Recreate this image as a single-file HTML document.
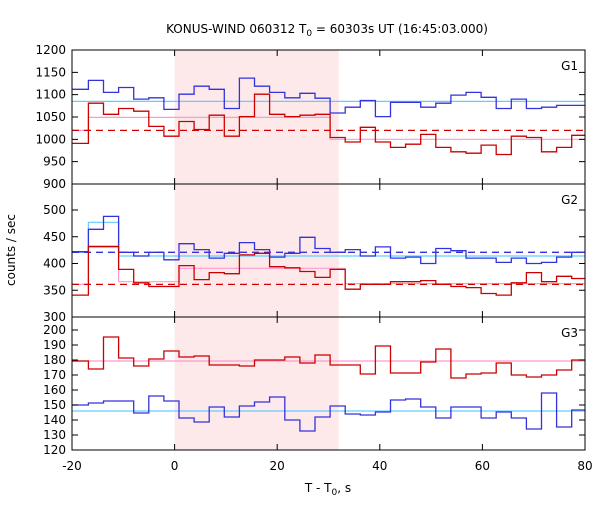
<!DOCTYPE html>
<html><head><meta charset="utf-8"><style>
body{margin:0;background:#fff;}
svg text{font-family:"DejaVu Sans","Liberation Sans",sans-serif;font-size:12px;fill:#000;}
</style></head><body>
<svg id="chart" width="600" height="500" xmlns="http://www.w3.org/2000/svg"></svg>
<script>
const binStart = -16.8;
const binWidth = 2.944;
const xTicks = [-20, 0, 20, 40, 60, 80];
const shadeRange = [0, 32];
const g1Blue = [1112,1132,1105,1116,1090,1093,1067,1101,1119,1112,1069,1137,1119,1105,1093,1103,1092,1059,1072,1087,1051,1083,1083,1072,1081,1099,1105,1094,1069,1090,1069,1072,1076,1076];
const g1Red = [991,1081,1056,1069,1063,1029,1007,1040,1022,1054,1007,1051,1101,1056,1051,1054,1056,1004,994,1027,994,982,989,1011,982,972,969,987,966,1007,1004,972,982,1009];
const g1Ticks = [900,950,1000,1050,1100,1150,1200];
const g2Blue = [422,464,488,421,414,421,407,437,426,410,419,439,426,412,419,449,428,421,426,414,431,410,412,400,428,424,410,410,402,410,400,402,412,421];
const g2Red = [341,432,432,389,364,357,357,396,370,383,381,416,419,394,392,385,374,389,352,361,361,366,366,368,361,357,355,344,341,364,383,366,376,372];
const g2Ticks = [300,350,400,450,500];
const g3Red = [179.3,174,195.3,181.3,176,180.7,186,182,182.7,176.7,176.7,176,180,180,182,178,183.3,176.7,176.7,170.7,189.3,171.3,171.3,178.7,187.3,168,170.7,171.3,178,170,168.7,170,173.3,180];
const g3Blue = [150,151.3,152.7,152.7,144.7,156,152.7,141.3,138.7,148.7,142,149.3,152,155.3,140,132.7,142,149.3,144,143.3,145.3,153.3,154,148.7,141.3,148.7,148.7,141.3,145.3,141.3,134,158,135.3,146.7];
const g3Ticks = [120,130,140,150,160,170,180,190,200];
// mean/fit lines: [value per bin index segment] as [fromBin, toBin(exclusive), value]
const g1Cyan = [[0,34,1085]];
const g1Pink = [[0,1,1020],[1,17,1049],[17,34,1000]];
const g1Dash = 1020;
const g2Cyan = [[0,1,421],[1,3,477],[3,34,414]];
const g2Pink = [[0,1,361],[1,3,430],[3,7,366],[7,18,391],[18,34,362.5]];
const g2BlueDash = 421;
const g2RedDash = 361;
const g3Cyan = [[0,34,146]];
const g3Pink = [[0,34,179.3]];

const svg = document.getElementById('chart');
const NS = 'http://www.w3.org/2000/svg';
const L = 72, R = 585;
const xs = t => L + (t + 20) * (R - L) / 100;
function mk(tag, attrs, parent) { const e = document.createElementNS(NS, tag); for (const k in attrs) e.setAttribute(k, attrs[k]); (parent || svg).appendChild(e); return e; }
function edge(k) { if (k <= 0) return -20; return Math.min(80, binStart + (k - 1) * binWidth); }

const panels = [
  {name:'g1', top:50, bot:184, vmin:900, vmax:1200, ticks:g1Ticks, label:'G1', lineTop:50},
  {name:'g2', top:184, bot:317, vmin:300, vmax:550, ticks:g2Ticks, label:'G2'},
  {name:'g3', top:317, bot:450, vmin:120, vmax:208.7, ticks:g3Ticks, label:'G3'}
];
// panel 2: 500 at y=210, 300 at 317
panels[1].ys = v => 317 - (v - 300) * (317 - 210) / 200;
panels[2].ys = v => 450 - (v - 120) * (450 - 330) / 80;
panels[0].ys = v => 184 - (v - 900) * (184 - 50) / 300;

// shading
const sh = mk('rect', {x:xs(shadeRange[0]), y:50, width:xs(shadeRange[1]) - xs(shadeRange[0]), height:400, fill:'#fde9ea'});



function stepPath(vals, ys) {
  let d = '';
  for (let k = 0; k < vals.length; k++) {
    const x0 = xs(edge(k)), x1 = xs(edge(k + 1)), y = ys(vals[k]);
    if (x1 <= x0) continue;
    d += (d ? 'L' : 'M') + x0.toFixed(1) + ',' + y.toFixed(1) + 'L' + x1.toFixed(1) + ',' + y.toFixed(1);
  }
  return d;
}
function segPath(segs, ys) {
  let d = '';
  for (const s of segs) {
    const x0 = xs(edge(s[0])), x1 = xs(edge(s[1])), y = ys(s[2]);
    d += (d ? 'L' : 'M') + x0.toFixed(1) + ',' + y.toFixed(1) + 'L' + x1.toFixed(1) + ',' + y.toFixed(1);
  }
  return d;
}
function line(d, color, name, dash, w) {
  const p = mk('path', {d:d, fill:'none', stroke:color, 'stroke-width':w || 1.3});
  if (dash) p.setAttribute('stroke-dasharray', dash);
  
  
  return p;
}
function hline(v, ys, color, name) {
  return line('M' + L + ',' + ys(v).toFixed(1) + 'L' + R + ',' + ys(v).toFixed(1), color, name, '7,5');
}

const P1 = panels[0], P2 = panels[1], P3 = panels[2];
line(segPath(g1Cyan, P1.ys), '#66ccff', 'g1-blue-mean-line', null, 1.2);
line(segPath(g1Pink, P1.ys), '#ff99cc', 'g1-red-mean-line', null, 1.2);
hline(g1Dash, P1.ys, '#d00000', 'g1-red-background-dashed');
line(stepPath(g1Blue, P1.ys), '#3333dd', 'g1-blue-series');
line(stepPath(g1Red, P1.ys), '#cc0000', 'g1-red-series');

line(segPath(g2Cyan, P2.ys), '#66ccff', 'g2-blue-mean-line', null, 1.2);
line(segPath(g2Pink, P2.ys), '#ff99cc', 'g2-red-mean-line', null, 1.2);
hline(g2BlueDash, P2.ys, '#3333dd', 'g2-blue-background-dashed');
hline(g2RedDash, P2.ys, '#d00000', 'g2-red-background-dashed');
line(stepPath(g2Blue, P2.ys), '#3333dd', 'g2-blue-series');
line(stepPath(g2Red, P2.ys), '#cc0000', 'g2-red-series');

line(segPath(g3Cyan, P3.ys), '#66ccff', 'g3-blue-mean-line', null, 1.2);
line(segPath(g3Pink, P3.ys), '#ff99cc', 'g3-red-mean-line', null, 1.2);
line(stepPath(g3Red, P3.ys), '#cc0000', 'g3-red-series');
line(stepPath(g3Blue, P3.ys), '#3333dd', 'g3-blue-series');

// frames, ticks, labels
for (const p of panels) {
  const f = mk('rect', {x:L, y:p.top, width:R - L, height:p.bot - p.top, fill:'none', stroke:'#000', 'stroke-width':1});
  
  
  for (const v of p.ticks) {
    const y = p.ys(v);
    const t = mk('path', {d:'M' + L + ',' + y + 'h6M' + R + ',' + y + 'h-6', stroke:'#000', 'stroke-width':1});
    
    
    const tx = mk('text', {x:L - 6, y:y + 4, 'text-anchor':'end'});
    tx.textContent = v;
    
    
  }
  for (const v of xTicks) {
    const x = xs(v);
    const t = mk('path', {d:'M' + x + ',' + p.bot + 'v-6M' + x + ',' + p.top + 'v6', stroke:'#000', 'stroke-width':1});
    
    
  }
  const lb = mk('text', {x:578, y:p.top + 20, 'text-anchor':'end'});
  lb.textContent = p.label;
  
  
}
for (const v of xTicks) {
  const tx = mk('text', {x:xs(v), y:470, 'text-anchor':'middle'});
  tx.textContent = v;
  
  
}
</script>
<svg width="600" height="500" style="position:absolute;left:0;top:0;pointer-events:none" xmlns="http://www.w3.org/2000/svg">
<text x="327" y="33" text-anchor="middle" style="font-family:'DejaVu Sans','Liberation Sans',sans-serif;font-size:12px">KONUS-WIND 060312 T<tspan dy="3" font-size="9">0</tspan><tspan dy="-3"> = 60303s UT (16:45:03.000)</tspan></text>
<text x="328" y="492" text-anchor="middle" style="font-family:'DejaVu Sans','Liberation Sans',sans-serif;font-size:12px">T - T<tspan dy="3" font-size="9">0</tspan><tspan dy="-3">, s</tspan></text>
<text x="15" y="250" text-anchor="middle" transform="rotate(-90 15 250)" style="font-family:'DejaVu Sans','Liberation Sans',sans-serif;font-size:12px">counts / sec</text>
</svg>
</body></html>
